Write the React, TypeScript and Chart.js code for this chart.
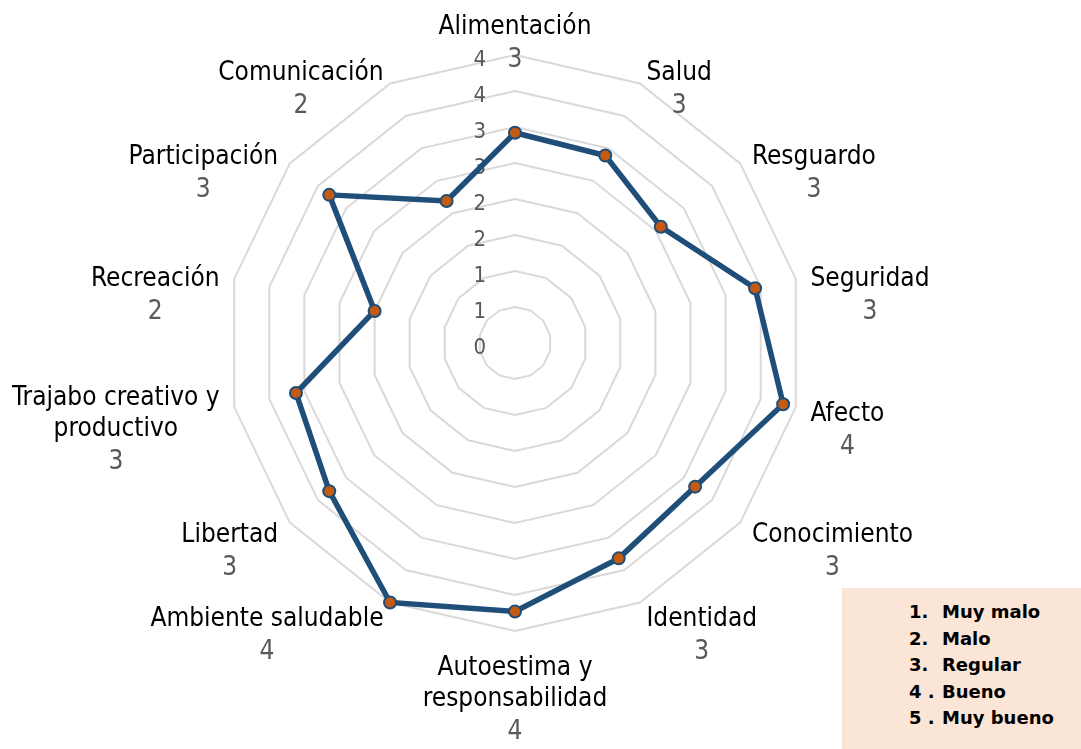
import React, { useEffect, useRef } from 'react';
import { Chart, registerables } from 'chart.js';

Chart.register(...registerables);

// ---- data ----
const categories: string[][] = [
  ['Alimentación'],
  ['Salud'],
  ['Resguardo'],
  ['Seguridad'],
  ['Afecto'],
  ['Conocimiento'],
  ['Identidad'],
  ['Autoestima y', 'responsabilidad'],
  ['Ambiente saludable'],
  ['Libertad'],
  ['Trajabo creativo y', 'productivo'],
  ['Recreación'],
  ['Participación'],
  ['Comunicación'],
];
const scores: number[] = [2.92, 2.89, 2.59, 3.42, 3.82, 3.2, 3.32, 3.73, 4.0, 3.3, 3.12, 2.0, 3.3, 2.19];
const axisMin = 0;
const axisMax = 4;
const axisStep = 0.5;
const legendNumbers: string[] = ['1.', '2.', '3.', '4 .', '5 .'];
const legendLabels: string[] = ['Muy malo', 'Malo', 'Regular', 'Bueno', 'Muy bueno'];

const FONT_FAMILY = '"DejaVu Sans Condensed", "DejaVu Sans", sans-serif';
const LABEL_SIZE = 26;
const TICK_SIZE = 22;

const labelPlugin = {
  id: 'customLabels',
  beforeDatasetsDraw(chart: any) {
    const s = chart.scales.r;
    const ctx = chart.ctx;
    ctx.save();
    ctx.font = `${TICK_SIZE}px ${FONT_FAMILY}`;
    ctx.fillStyle = '#595959';
    ctx.textAlign = 'right';
    ctx.textBaseline = 'alphabetic';
    s.ticks.forEach((t: any) => {
      const d = s.getDistanceFromCenterForValue(t.value);
      ctx.fillText(String(t.label), s.xCenter - 29, s.yCenter - d + 3 + TICK_SIZE * 0.36);
    });
    ctx.restore();
  },
  afterDraw(chart: any) {
    const s = chart.scales.r;
    const ctx = chart.ctx;
    const R = s.drawingArea;
    const n = categories.length;
    const lh = 31;
    const capHalf = LABEL_SIZE * 0.36;
    ctx.save();
    ctx.font = `${LABEL_SIZE}px ${FONT_FAMILY}`;
    ctx.textBaseline = 'alphabetic';
    ctx.textAlign = 'center';
    categories.forEach((lines, i) => {
      const a = (i / n) * Math.PI * 2;
      const sn = Math.sin(a);
      const cs = Math.cos(a);
      const p = s.getPointPosition(i, R + 15);
      const w = Math.max(...lines.map((l) => ctx.measureText(l).width));
      let cx: number;
      if (Math.abs(sn) < 0.05) cx = p.x;
      else if (sn > 0) cx = p.x + w / 2;
      else cx = p.x - w / 2;
      const H = lines.length * lh;
      let firstCenter: number;
      if (Math.abs(sn) < 0.05 && cs > 0) firstCenter = p.y - H + lh / 2;
      else if (Math.abs(sn) < 0.05 && cs < 0) firstCenter = p.y + 4 + lh / 2;
      else firstCenter = p.y - H / 2 + lh / 2 + 1;
      ctx.fillStyle = '#000000';
      let lastBase = 0;
      lines.forEach((l, k) => {
        const base = firstCenter + k * lh + capHalf;
        ctx.fillText(l, cx, base);
        lastBase = base;
      });
      ctx.fillStyle = '#595959';
      ctx.fillText(String(Math.round(scores[i])), cx, lastBase + 33);
    });
    ctx.restore();
  },
};

export default function App() {
  const canvasRef = useRef<HTMLCanvasElement | null>(null);

  useEffect(() => {
    const canvas = canvasRef.current;
    if (!canvas) return;
    const chart = new Chart(canvas, {
      type: 'radar',
      data: {
        labels: categories,
        datasets: [
          {
            data: scores,
            borderColor: '#1F4E79',
            borderWidth: 5.5,
            pointBackgroundColor: '#C55A11',
            pointBorderColor: '#1F4E79',
            pointBorderWidth: 2,
            pointRadius: 6,
            fill: false,
            tension: 0,
          },
        ],
      },
      options: {
        responsive: false,
        animation: false,
        devicePixelRatio: 1,
        layout: { padding: { left: 227, right: 278, top: 55, bottom: 118 } },
        plugins: { legend: { display: false }, tooltip: { enabled: false } },
        scales: {
          r: {
            min: axisMin,
            max: axisMax,
            ticks: {
              stepSize: axisStep,
              display: false,
              showLabelBackdrop: false,
              callback: (v: any) => String(Math.round(Number(v))),
            },
            grid: { color: '#D9D9D9', lineWidth: 2, circular: false },
            angleLines: { display: false },
            pointLabels: { display: false },
          },
        },
      } as any,
      plugins: [labelPlugin as any],
    });
    return () => chart.destroy();
  }, []);

  return (
    <div style={{ position: 'fixed', left: 0, top: 0, width: 1081, height: 749, background: '#ffffff' }}>
      <canvas ref={canvasRef} width={1081} height={749} style={{ display: 'block', width: 1081, height: 749 }} />
      <div
        style={{
          position: 'absolute',
          left: 842,
          top: 588,
          width: 239,
          height: 161,
          background: '#FBE5D6',
          boxSizing: 'border-box',
          paddingTop: 11,
          paddingLeft: 67,
          fontFamily: '"DejaVu Sans", sans-serif',
          fontWeight: 'bold',
          fontSize: 18,
          color: '#000000',
        }}
      >
        {legendLabels.map((lab, i) => (
          <div key={i} style={{ lineHeight: '26.5px', whiteSpace: 'nowrap' }}>
            <span style={{ display: 'inline-block', width: 33 }}>{legendNumbers[i]}</span>
            {lab}
          </div>
        ))}
      </div>
    </div>
  );
}
